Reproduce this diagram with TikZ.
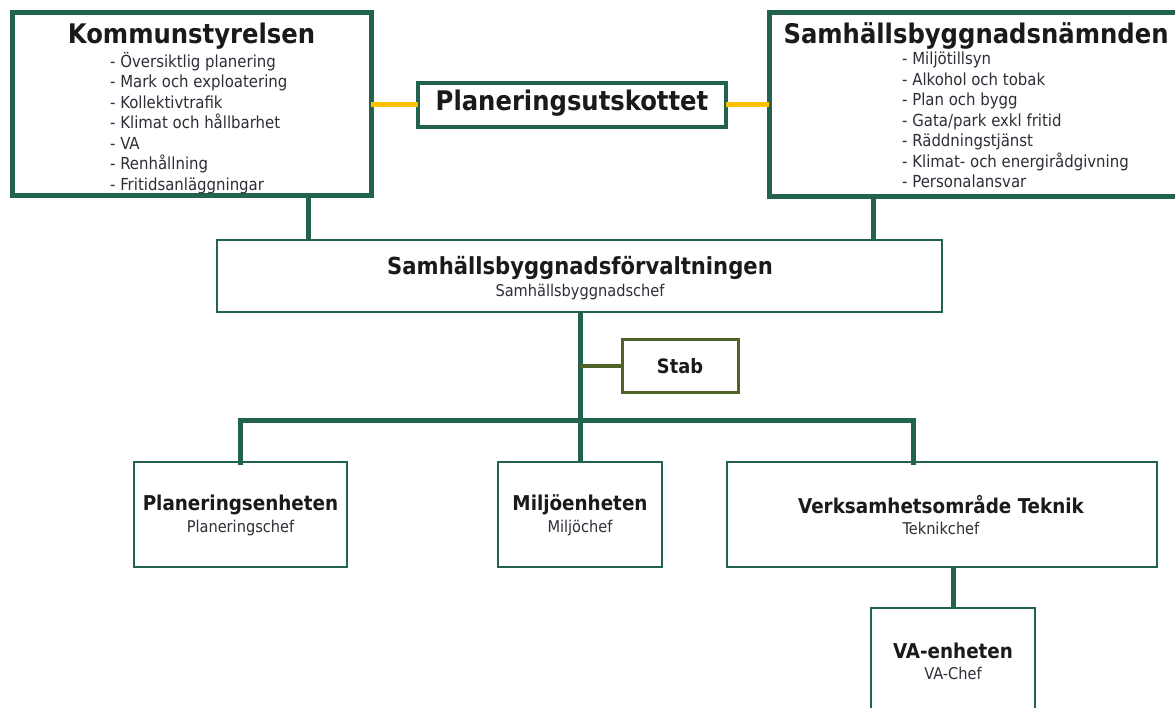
\documentclass[tikz,border=0pt]{standalone}
\usepackage{fontspec}
\setmainfont{DejaVu Sans Condensed}
\newfontfamily\cbold{DejaVu Sans Condensed Bold}
\definecolor{dkgreen}{HTML}{22634E}
\definecolor{olive}{HTML}{4F6228}
\definecolor{gold}{HTML}{FFC000}
\definecolor{txt}{HTML}{1A1A1A}
\definecolor{subtxt}{HTML}{2E2E38}
\tikzset{
  x=1pt,y=-1pt,
  bigbox/.style={draw=dkgreen,line width=5pt,fill=white,inner sep=0pt,outer sep=0pt},
  midbox/.style={draw=dkgreen,line width=4pt,fill=white,inner sep=0pt,outer sep=0pt},
  thinbox/.style={draw=dkgreen,line width=2.2pt,fill=white,inner sep=0pt,outer sep=0pt},
  stabbox/.style={draw=olive,line width=3pt,fill=white,inner sep=0pt,outer sep=0pt},
  conn/.style={dkgreen,line width=5pt},
  yconn/.style={gold,line width=5pt},
  oconn/.style={olive,line width=3.5pt},
  bigtitle/.style={inner sep=0pt,text=txt,font=\cbold\fontsize{27}{30}\selectfont},
  title/.style={inner sep=0pt,text=txt,font=\cbold\fontsize{20.4}{24}\selectfont},
  sub/.style={inner sep=0pt,text=subtxt,font=\fontsize{16.2}{18}\selectfont},
  list/.style={inner sep=0pt,text=subtxt,align=left,anchor=north west,font=\fontsize{16.6}{20.5}\selectfont},
}
\begin{document}
\begin{tikzpicture}
\useasboundingbox (0,0) rectangle (1175,708);
\begin{scope}
\clip (0,0) rectangle (1175,708);
\coordinate (c1) at (308,0);
\coordinate (c2) at (873,0);
\coordinate (cm) at (580,0);
\coordinate (cl) at (240,0);
\coordinate (cr) at (913,0);
\coordinate (cv) at (953,0);
\coordinate (bus) at (0,420);
\coordinate (stabj) at (580,366);

% boxes
\node[bigbox,minimum width=359pt,minimum height=183pt] (ks) at (191.5,104.5) {};
\node[bigbox,minimum width=414pt,minimum height=184pt] (sbn) at (976,104.5) {};
\node[midbox,minimum width=308pt,minimum height=44pt] (pu) at (572,105) {};
\node[thinbox,minimum width=725pt,minimum height=72pt] (forv) at (579.5,276) {};
\node[stabbox,minimum width=116pt,minimum height=52pt] (stab) at (680,366) {};
\node[thinbox,minimum width=213pt,minimum height=105pt] (pe) at (240.5,514.5) {};
\node[thinbox,minimum width=164pt,minimum height=105pt] (me) at (580,514.5) {};
\node[thinbox,minimum width=430pt,minimum height=105pt] (te) at (942,514.5) {};
\node[thinbox,minimum width=164pt,minimum height=120pt] (va) at (953,668) {};

% connectors
\draw[yconn] (ks.east |- pu.west) -- (pu.west);
\draw[yconn] (pu.east) -- (sbn.west |- pu.east);
\draw[conn] (ks.south -| c1) -- (forv.north -| c1);
\draw[conn] (sbn.south -| c2) -- (forv.north -| c2);
\draw[conn] (forv.south -| cm) -- (me.north -| cm);
\draw[conn,line cap=rect] (pe.north -| cl) -- (bus -| cl) -- (bus -| cr) -- (te.north -| cr);
\draw[oconn] (stabj) -- (stab.west);
\draw[conn] (te.south -| cv) -- (va.north -| cv);

% texts
\node[bigtitle] (kst) at (191.5,36) {Kommunstyrelsen};
\node[list] (ksl) at (110,52) {- Översiktlig planering\\- Mark och exploatering\\- Kollektivtrafik\\- Klimat och hållbarhet\\- VA\\- Renhållning\\- Fritidsanläggningar};
\node[bigtitle] (sbnt) at (976,36) {Samhällsbyggnadsnämnden};
\node[list] (sbnl) at (902,52) {- Miljötillsyn\\- Alkohol och tobak\\- Plan och bygg\\- Gata/park exkl fritid\\- Räddningstjänst\\- Klimat- och energirådgivning\\- Personalansvar};
\node[bigtitle] (put) at (572,103) {Planeringsutskottet};
\node[title,font=\cbold\fontsize{23.5}{26}\selectfont] (forvt) at (580,268) {Samhällsbyggnadsförvaltningen};
\node[sub] (forvs) at (580,292) {Samhällsbyggnadschef};
\node[title,font=\cbold\fontsize{19.8}{22}\selectfont] (stabt) at (680,366) {Stab};
\node[title] (pet) at (240.5,505) {Planeringsenheten};
\node[sub] (pes) at (240.5,528) {Planeringschef};
\node[title] (met) at (580,505) {Miljöenheten};
\node[sub] (mes) at (580,528) {Miljöchef};
\node[title] (tet) at (941,505) {Verksamhetsområde Teknik};
\node[sub] (tes) at (941,528) {Teknikchef};
\node[title] (vat) at (953,651) {VA-enheten};
\node[sub] (vas) at (953,673) {VA-Chef};
\end{scope}
\end{tikzpicture}
\end{document}
